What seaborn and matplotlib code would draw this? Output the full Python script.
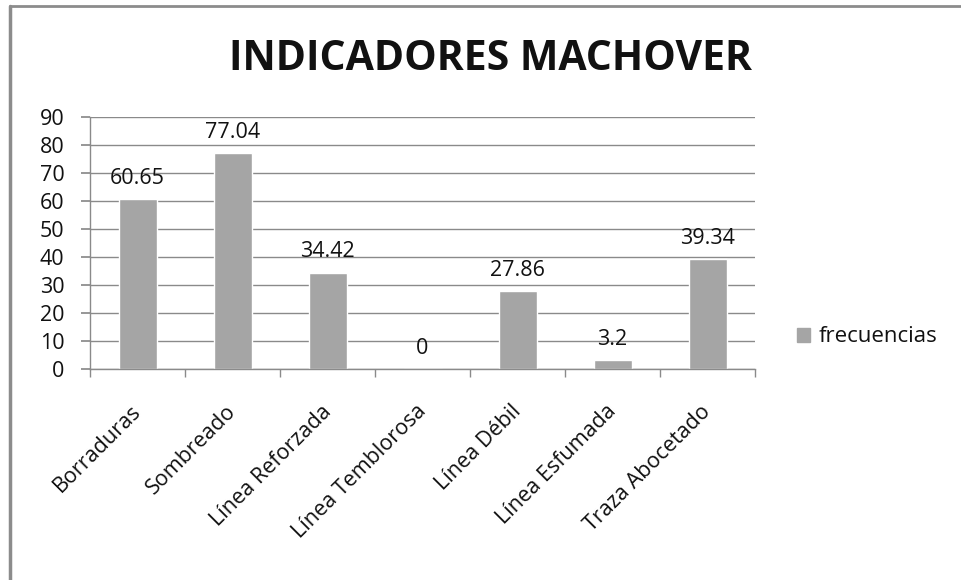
import matplotlib
matplotlib.use("Agg")
import matplotlib.pyplot as plt
import matplotlib.transforms as mtransforms
import seaborn as sns
import pandas as pd
from matplotlib.patches import Rectangle
from matplotlib.lines import Line2D

categories = ["Borraduras", "Sombreado", "Línea Reforzada", "Línea Temblorosa",
              "Línea Débil", "Línea Esfumada", "Traza Abocetado"]
values = [60.65, 77.04, 34.42, 0, 27.86, 3.2, 39.34]
value_labels = ["60.65", "77.04", "34.42", "0", "27.86", "3.2", "39.34"]
series_name = "frecuencias"
title = "INDICADORES MACHOVER"
yticks = [0, 10, 20, 30, 40, 50, 60, 70, 80, 90]

sns.set_theme(style="white")
plt.rcParams['font.family'] = ['Open Sans', 'DejaVu Sans']

df = pd.DataFrame({"cat": categories, "val": values, "serie": series_name})

fig = plt.figure(figsize=(9.61, 5.8), dpi=100)
ax = fig.add_axes([90/961, 1-369/580, (755-90)/961, (369-117)/580])

bar_color = "#A5A5A5"
sns.barplot(data=df, x="cat", y="val", color=bar_color, width=0.4, ax=ax,
            saturation=1, errorbar=None)

ax.set_ylim(0, 90)
ax.set_xlim(-0.5, len(categories) - 0.5)
ax.set_yticks(yticks)
ax.set_yticklabels([str(t) for t in yticks], fontsize=15.5, color="#111111")
ax.yaxis.grid(True, color="#8A8A8A", linewidth=1)
ax.set_axisbelow(True)
ax.set_xlabel("")
ax.set_ylabel("")

for s in ["top", "right"]:
    ax.spines[s].set_visible(False)
for s in ["left", "bottom"]:
    ax.spines[s].set_color("#8A8A8A")
    ax.spines[s].set_linewidth(1)

ax.tick_params(axis="y", which="major", left=True, length=6.5, color="#8A8A8A", pad=12)
ax.set_xticks(range(len(categories)))
ax.set_xticklabels(categories, rotation=45, ha="right", rotation_mode="anchor",
                   fontsize=15.5, color="#111111")
ax.tick_params(axis="x", which="major", length=0, pad=23)
shift = mtransforms.ScaledTranslation(-7/100, 0, fig.dpi_scale_trans)
for lab in ax.get_xticklabels():
    lab.set_transform(lab.get_transform() + shift)
ax.set_xticks([i - 0.5 for i in range(len(categories) + 1)], minor=True)
ax.tick_params(axis="x", which="minor", bottom=True, length=5.5, color="#8A8A8A", width=1)

for i, (v, lab) in enumerate(zip(values, value_labels)):
    ax.annotate(lab, (i, v), xytext=(0, 11), textcoords="offset points",
                ha="center", va="baseline", fontsize=15.5, color="#111111")

fig.text(490/961, 1-60/580, title, ha="center", va="center",
         fontsize=29.5, fontweight="bold", color="#111111")

handle = Rectangle((0, 0), 1, 1, color=bar_color)
leg = fig.legend([handle], [series_name], loc="center left",
                 bbox_to_anchor=(797/961, 1-337/580), frameon=False,
                 fontsize=16, handlelength=0.58, handleheight=0.58,
                 handletextpad=0.4, borderpad=0, borderaxespad=0)
for t in leg.get_texts():
    t.set_color("#111111")

lc = "#8C8C8C"
fig.lines.append(Line2D([10/961, 10/961], [0, 1-5.5/580], transform=fig.transFigure,
                        color=lc, linewidth=2.5))
fig.lines.append(Line2D([10/961, 1], [1-5.5/580, 1-5.5/580], transform=fig.transFigure,
                        color=lc, linewidth=2.0))

fig.savefig("out.png", dpi=100, facecolor="white")
